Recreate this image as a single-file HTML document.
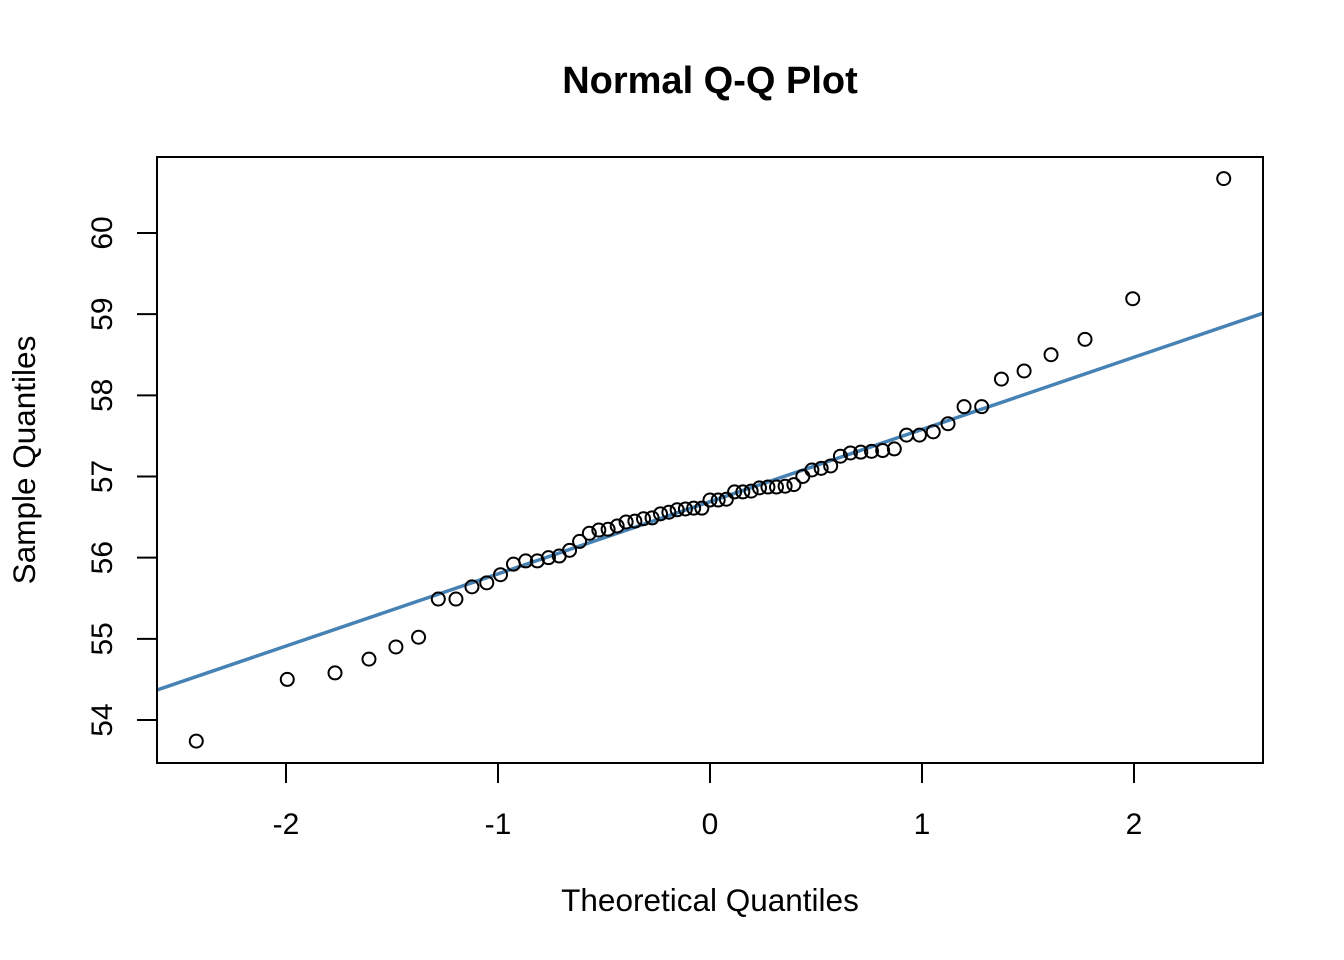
<!DOCTYPE html>
<html><head><meta charset="utf-8"><style>
html,body{margin:0;padding:0;background:#fff;}
svg{display:block;font-family:"Liberation Sans",Arial,sans-serif;}
</style></head><body>
<svg id="chart" width="1344" height="960" viewBox="0 0 1344 960">
<rect x="0" y="0" width="1344" height="960" fill="#fff"/>
<text x="710" y="93" text-anchor="middle" font-size="38" font-weight="bold">Normal Q-Q Plot</text>
<text x="710" y="911" text-anchor="middle" font-size="31.5">Theoretical Quantiles</text>
<text transform="translate(35,460) rotate(-90)" text-anchor="middle" font-size="31.5">Sample Quantiles</text>
<g id="plot"></g>
<rect x="157" y="157" width="1106" height="606" fill="none" stroke="#000" stroke-width="2"/>
</svg>
<script>
const sampleValues = [53.74,54.5,54.58,54.75,54.9,55.02,55.49,55.49,55.64,55.69,55.79,55.92,55.96,55.96,56.0,56.02,56.09,56.2,56.3,56.34,56.35,56.39,56.44,56.45,56.48,56.49,56.54,56.56,56.59,56.6,56.61,56.61,56.71,56.71,56.72,56.81,56.81,56.82,56.86,56.87,56.87,56.88,56.9,57.0,57.08,57.1,57.13,57.25,57.29,57.3,57.31,57.32,57.34,57.51,57.51,57.55,57.65,57.86,57.86,58.2,58.3,58.5,58.69,59.19,60.67];
const xTicks = [-2,-1,0,1,2];
const yTicks = [54,55,56,57,58,59,60];
const xDomain = [-2.608, 2.608];

const NS = "http://www.w3.org/2000/svg";
const L=157,R=1263,T=157,B=763;
function xs(v){return 710 + v*212;}
function ys(v){return 720 - (v-54)*81.17;}
function qnorm(p){
  const a=[-39.69683028665376,220.9460984245205,-275.9285104469687,138.3577518672690,-30.66479806614716,2.506628277459239];
  const b=[-54.47609879822406,161.5858368580409,-155.6989798598866,66.80131188771972,-13.28068155288572];
  const c=[-7.784894002430293e-03,-0.3223964580411365,-2.400758277161838,-2.549732539343734,4.374664141464968,2.938163982698783];
  const d=[7.784695709041462e-03,0.3224671290700398,2.445134137142996,3.754408661907416];
  const pl=0.02425;let q,r;
  if(p<pl){q=Math.sqrt(-2*Math.log(p));return (((((c[0]*q+c[1])*q+c[2])*q+c[3])*q+c[4])*q+c[5])/((((d[0]*q+d[1])*q+d[2])*q+d[3])*q+1);}
  if(p>1-pl){q=Math.sqrt(-2*Math.log(1-p));return -(((((c[0]*q+c[1])*q+c[2])*q+c[3])*q+c[4])*q+c[5])/((((d[0]*q+d[1])*q+d[2])*q+d[3])*q+1);}
  q=p-0.5;r=q*q;return (((((a[0]*r+a[1])*r+a[2])*r+a[3])*r+a[4])*r+a[5])*q/(((((b[0]*r+b[1])*r+b[2])*r+b[3])*r+b[4])*r+1);
}
function quantile(arr,p){const s=[...arr].sort((a,b)=>a-b);const h=(s.length-1)*p;const lo=Math.floor(h);return s[lo]+(h-lo)*((s[lo+1]??s[lo])-s[lo]);}
const g=document.getElementById('plot');
function mk(tag,attrs){const e=document.createElementNS(NS,tag);for(const k in attrs)e.setAttribute(k,attrs[k]);return e;}

xTicks.forEach(t=>{
  const ln=mk('line',{x1:xs(t),x2:xs(t),y1:B,y2:B+20,stroke:'#000','stroke-width':2});
  
  
  g.appendChild(ln);
  const tx=mk('text',{x:xs(t),y:834,'text-anchor':'middle','font-size':30});
  tx.textContent=t;
  
  
  g.appendChild(tx);
});
yTicks.forEach(t=>{
  const ln=mk('line',{x1:L-20,x2:L,y1:ys(t),y2:ys(t),stroke:'#000','stroke-width':2});
  
  
  g.appendChild(ln);
  const tx=mk('text',{transform:`translate(112,${ys(t)}) rotate(-90)`,'text-anchor':'middle','font-size':30});
  tx.textContent=t;
  
  
  g.appendChild(tx);
});

const q1=quantile(sampleValues,0.25),q3=quantile(sampleValues,0.75);
const slope=(q3-q1)/(qnorm(0.75)-qnorm(0.25));
const icpt=q1-slope*qnorm(0.25);
const clip=mk('clipPath',{id:'pc'});clip.appendChild(mk('rect',{x:L,y:T,width:R-L,height:B-T}));g.appendChild(clip);
const line=mk('line',{x1:xs(xDomain[0]),y1:ys(icpt+slope*xDomain[0]),x2:xs(xDomain[1]),y2:ys(icpt+slope*xDomain[1]),stroke:'#4682B4','stroke-width':3.5,'clip-path':'url(#pc)'});


g.appendChild(line);

const n=sampleValues.length;
const sorted=[...sampleValues].sort((a,b)=>a-b);
sorted.forEach((v,i)=>{
  const a=n<=10?3/8:0.5;
  const tq=qnorm((i+1-a)/(n+1-2*a));
  const c=mk('circle',{cx:xs(tq),cy:ys(v),r:6.5,fill:'none',stroke:'#000','stroke-width':2});
  
  
  g.appendChild(c);
});
</script>
</body></html>
